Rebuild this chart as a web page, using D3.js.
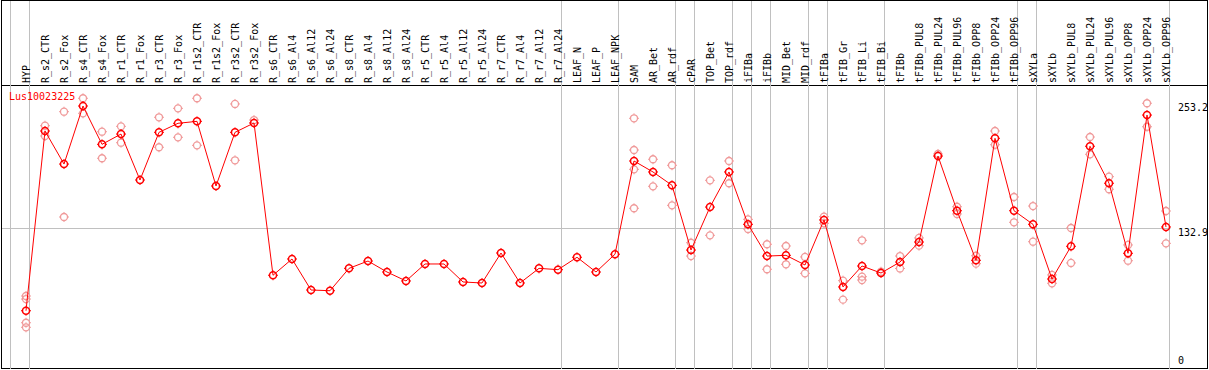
<!DOCTYPE html>
<html>
<head>
<meta charset="utf-8">
<script src="https://cdn.jsdelivr.net/npm/d3@7"></script>
<style>
  body { margin: 0; background: #fff; }
  text { font-family: "DejaVu Sans Mono", monospace; font-size: 10px; }
</style>
</head>
<body>
<svg id="chart"></svg>
<script>
// sample names (column order)
var samples = ["HYP", "R_s2_CTR", "R_s2_Fox", "R_s4_CTR", "R_s4_Fox", "R_r1_CTR", "R_r1_Fox",
  "R_r3_CTR", "R_r3_Fox", "R_r1s2_CTR", "R_r1s2_Fox", "R_r3s2_CTR", "R_r3s2_Fox",
  "R_s6_CTR", "R_s6_Al4", "R_s6_Al12", "R_s6_Al24", "R_s8_CTR", "R_s8_Al4", "R_s8_Al12", "R_s8_Al24",
  "R_r5_CTR", "R_r5_Al4", "R_r5_Al12", "R_r5_Al24", "R_r7_CTR", "R_r7_Al4", "R_r7_Al12", "R_r7_Al24",
  "LEAF_N", "LEAF_P", "LEAF_NPK", "SAM", "AR_Bet", "AR_rdf", "cPAR", "TOP_Bet", "TOP_rdf",
  "iFIBa", "iFIBb", "MID_Bet", "MID_rdf", "tFIBa", "tFIB_Gr", "tFIB_Li", "tFIB_Bi", "tFIBb",
  "tFIBb_PUL8", "tFIBb_PUL24", "tFIBb_PUL96", "tFIBb_OPP8", "tFIBb_OPP24", "tFIBb_OPP96",
  "sXYLa", "sXYLb", "sXYLb_PUL8", "sXYLb_PUL24", "sXYLb_PUL96", "sXYLb_OPP8", "sXYLb_OPP24", "sXYLb_OPP96"];

// mean expression per sample
var means = [51.8, 228.6, 196.1, 253.2, 215.5, 225.6, 180.4,
  227.3, 236.2, 238.1, 174.5, 227.3, 236.5,
  86.7, 102.7, 72.2, 71.5, 93.5, 100.7, 89.9, 81.1,
  97.8, 97.8, 80.1, 79.1, 108.6, 79.1, 93.5, 92.2,
  104.4, 89.9, 107.4, 199.1, 188.3, 175.2, 111.5, 153.8, 188.3,
  136.8, 105.6, 106.3, 96.8, 141.1, 75.2, 95.8, 88.9, 99.7,
  119.4, 204.0, 150.2, 101.4, 221.4, 150.2,
  136.8, 83.0, 115.2, 213.6, 177.2, 108.3, 244.3, 134.2];

// individual replicates
var replicates = [[66.3, 63.3, 40.0, 35.5], [233.8, 223.7], [247.6, 144.0], [260.8, 246.0], [227.9, 201.8],
  [233.2, 217.1], [], [242.1, 212.6], [250.9, 222.4], [260.8, 214.5], [], [255.2, 199.8], [239.4],
  [], [], [], [], [], [], [], [],
  [], [], [], [], [], [], [], [],
  [], [], [], [241.1, 209.9, 190.9, 152.6], [200.8, 174.2], [194.9, 155.5], [118.7, 105.6], [180.1, 126.0], [199.1, 177.2],
  [141.7, 132.2], [117.2, 92.6], [115.5, 97.5], [104.7, 88.6], [144.3, 137.8], [81.4, 62.7], [121.1, 85.3, 82.0], [90.2], [105.6, 93.4],
  [123.4, 115.8], [206.0], [154.1, 147.0], [105.9, 98.1], [228.6, 215.1], [163.7, 138.8],
  [154.8, 119.7], [87.0, 78.8], [133.2, 98.8], [222.7, 205.7], [183.7, 171.3], [116.5, 101.0], [255.9, 232.8], [149.9, 118.1]];

// last sample of each group (vertical separators), -1 = before first
var groupEnds = [-1, 0, 28, 31, 34, 35, 37, 38, 39, 41, 42, 45, 52, 53, 60];

var gene = "Lus10023225";
var axisTicks = [253.2, 132.9, 0];
var refLine = 132.9;

var width = 1209, height = 370;
var headerBottom = 85, plotRight = 1170.5;

var svg = d3.select("#chart")
  .attr("width", width)
  .attr("height", height);

var x = d3.scaleBand()
  .domain(d3.range(samples.length))
  .range([11.5, 11.5 + 19 * samples.length]);
var cx = function(i) { return x(i) + 14.5; };
var edge = function(k) { return 11 + x.step() * (k + 1) - 0.5; };

var y = d3.scaleLinear()
  .domain([0, 253.2])
  .range([363.4, 106]);

// outer frame + header line
svg.append("rect")
  .attr("x", 1.5).attr("y", 0.5)
  .attr("width", 1206).attr("height", 368)
  .style("fill", "none").style("stroke", "#000");
svg.append("line")
  .attr("x1", 1).attr("x2", 1208)
  .attr("y1", headerBottom + 0.5).attr("y2", headerBottom + 0.5)
  .style("stroke", "#000");

// vertical group separators
svg.selectAll("sep")
  .data(groupEnds)
  .enter().append("line")
  .attr("x1", function(k) { return edge(k); })
  .attr("x2", function(k) { return edge(k); })
  .attr("y1", 1).attr("y2", 369)
  .style("stroke", "#c0c0c0");

// reference line
svg.append("line")
  .attr("x1", 2).attr("x2", plotRight)
  .attr("y1", Math.round(y(refLine)) + 0.5).attr("y2", Math.round(y(refLine)) + 0.5)
  .style("stroke", "#c0c0c0");

// column labels
svg.selectAll("collabel")
  .data(samples)
  .enter().append("text")
  .attr("transform", function(d, i) { return "translate(" + (cx(i) + 4) + ",83) rotate(-90)"; })
  .style("fill", "#000")
  .text(function(d) { return d; });

// right axis labels
svg.selectAll("ylabel")
  .data(axisTicks)
  .enter().append("text")
  .attr("x", 1178)
  .attr("y", function(d) { return d === 0 ? y(d) + 1 : y(d) + (d === refLine ? 8 : 5); })
  .style("fill", "#000")
  .text(function(d) { return d; });

// gene name
svg.append("text")
  .attr("x", 9).attr("y", 100)
  .style("fill", "#ff0000")
  .text(gene);

function marker(g, color, w) {
  var r = 3.5;
  g.append("circle").attr("r", r)
    .style("fill", "none").style("stroke", color).style("stroke-width", w);
  [[0, -1], [0, 1], [-1, 0], [1, 0]].forEach(function(v) {
    g.append("line")
      .attr("x1", v[0] * r).attr("y1", v[1] * r)
      .attr("x2", v[0] * (r + 1.5)).attr("y2", v[1] * (r + 1.5))
      .style("stroke", color).style("stroke-width", 1);
  });
}

// replicate points
var repPts = [];
replicates.forEach(function(arr, i) {
  arr.forEach(function(v) { repPts.push({ i: i, v: v }); });
});
svg.selectAll("rep")
  .data(repPts)
  .enter().append("g")
  .attr("transform", function(d) { return "translate(" + cx(d.i) + "," + y(d.v) + ")"; })
  .each(function() { marker(d3.select(this), "#f09a9a", 1.3); });

// mean line
svg.append("path")
  .datum(means)
  .attr("d", d3.line().x(function(d, i) { return cx(i); }).y(function(d) { return y(d); }))
  .style("fill", "none")
  .style("stroke", "#ff0000")
  .style("stroke-width", 1);

// mean points
svg.selectAll("mean")
  .data(means)
  .enter().append("g")
  .attr("transform", function(d, i) { return "translate(" + cx(i) + "," + y(d) + ")"; })
  .each(function() { marker(d3.select(this), "#ff0000", 1.5); });
</script>
</body>
</html>
